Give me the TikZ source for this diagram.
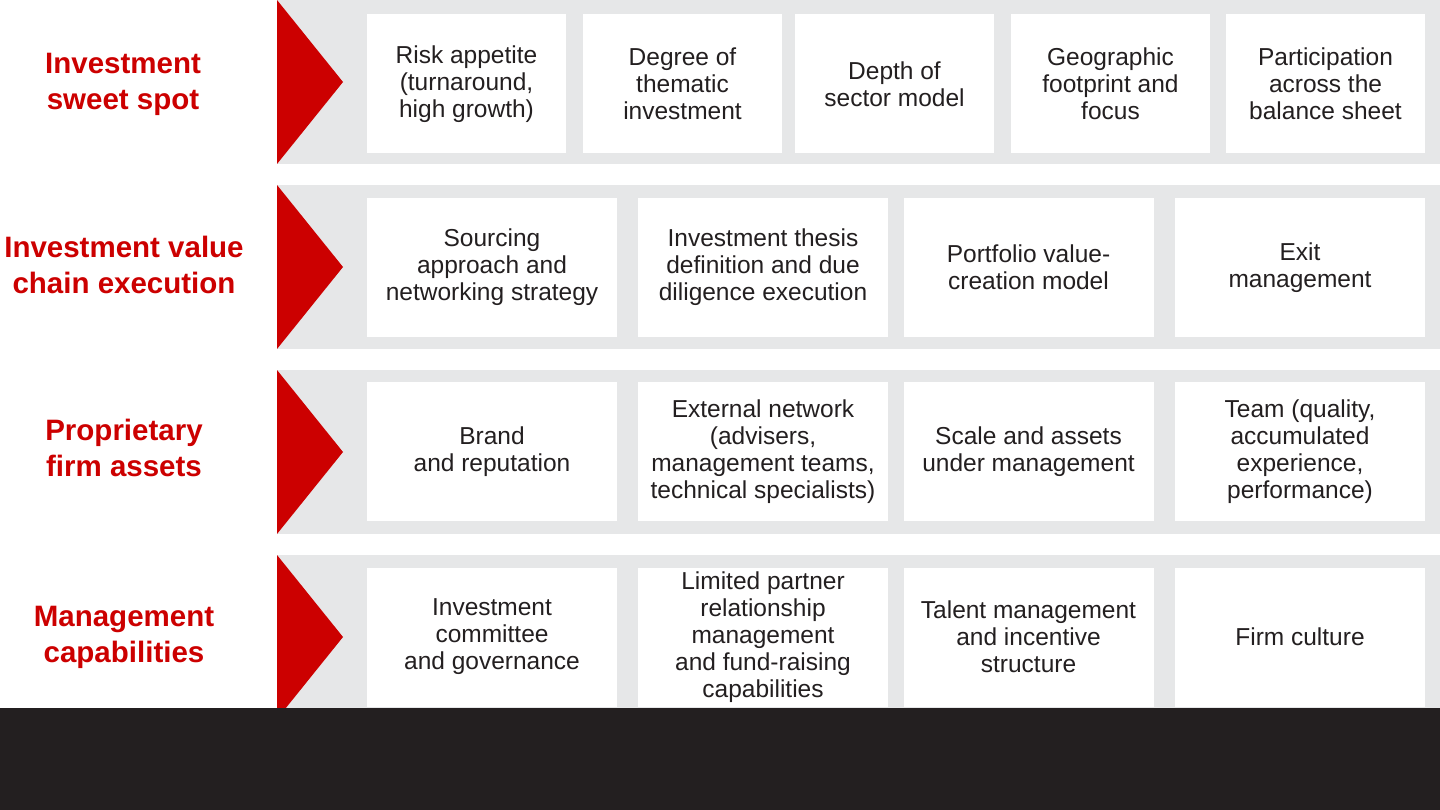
\documentclass[tikz,border=0pt]{standalone}
\usepackage{fontspec}
\setmainfont{Liberation Sans}
\definecolor{bandgray}{HTML}{E6E7E8}
\definecolor{accred}{HTML}{CC0000}
\definecolor{inkdark}{HTML}{231F20}
\begin{document}
\begin{tikzpicture}[x=1pt,y=-1pt,
  bandfill/.style={fill=bandgray, draw=none},
  chevron/.style={fill=accred, draw=none},
  cell/.style={fill=white, draw=none, inner sep=0pt, align=center, text=inkdark,
    minimum height=139pt, font=\fontsize{24.5}{27}\selectfont},
  cellA/.style={cell, minimum width=199pt},
  cellB/.style={cell, minimum width=250pt},
  rowlabel/.style={align=center, text=accred, inner sep=0pt,
    font=\bfseries\fontsize{29.5}{36}\selectfont},
]
\useasboundingbox (0,0) rectangle (1440,810);

% bands and chevrons
\foreach \y in {0,185,370,555}{
  \fill[bandfill] (277,\y) rectangle (1440,\y+164);
  \fill[chevron] (277,\y) -- (343,\y+82) -- (277,\y+164) -- cycle;
}

% row labels
\node[rowlabel] (lab1) at (123,84) {Investment\\sweet spot};
\node[rowlabel] (lab2) at (124,265) {Investment value\\chain execution};
\node[rowlabel] (lab3) at (124,448) {Proprietary\\firm assets};
\node[rowlabel] (lab4) at (124,637) {Management\\capabilities};

% row 1
\node[cellA] (b11) at (466.5,84) {Risk appetite\\(turnaround,\\high growth)};
\node[cellA] (b12) at (682.5,84) {Degree of\\thematic\\investment};
\node[cellA] (b13) at (894.5,84) {Depth of\\sector model};
\node[cellA] (b14) at (1110.5,84) {Geographic\\footprint and\\focus};
\node[cellA] (b15) at (1325.5,84) {Participation\\across the\\balance sheet};

% row 2
\node[cellB] (b21) at (492,267.5) {Sourcing\\approach and\\networking strategy};
\node[cellB] (b22) at (763,267.5) {Investment thesis\\definition and due\\diligence execution};
\node[cellB] (b23) at (1028.5,267.5) {Portfolio value-\\creation model};
\node[cellB] (b24) at (1300,267.5) {Exit\\management};

% row 3
\node[cellB] (b31) at (492,451.5) {Brand\\and reputation};
\node[cellB] (b32) at (763,451.5) {External network\\(advisers,\\management teams,\\technical specialists)};
\node[cellB] (b33) at (1028.5,451.5) {Scale and assets\\under management};
\node[cellB] (b34) at (1300,451.5) {Team (quality,\\accumulated\\experience,\\performance)};

% row 4
\node[cellB] (b41) at (492,637) {Investment\\committee\\and governance};
\node[cellB] (b42) at (763,637) {Limited partner\\relationship\\management\\and fund-raising\\capabilities};
\node[cellB] (b43) at (1028.5,637) {Talent management\\and incentive\\structure};
\node[cellB] (b44) at (1300,637) {Firm culture};

% bottom band
\fill[inkdark] (0,708) rectangle (1440,810);
\end{tikzpicture}
\end{document}
